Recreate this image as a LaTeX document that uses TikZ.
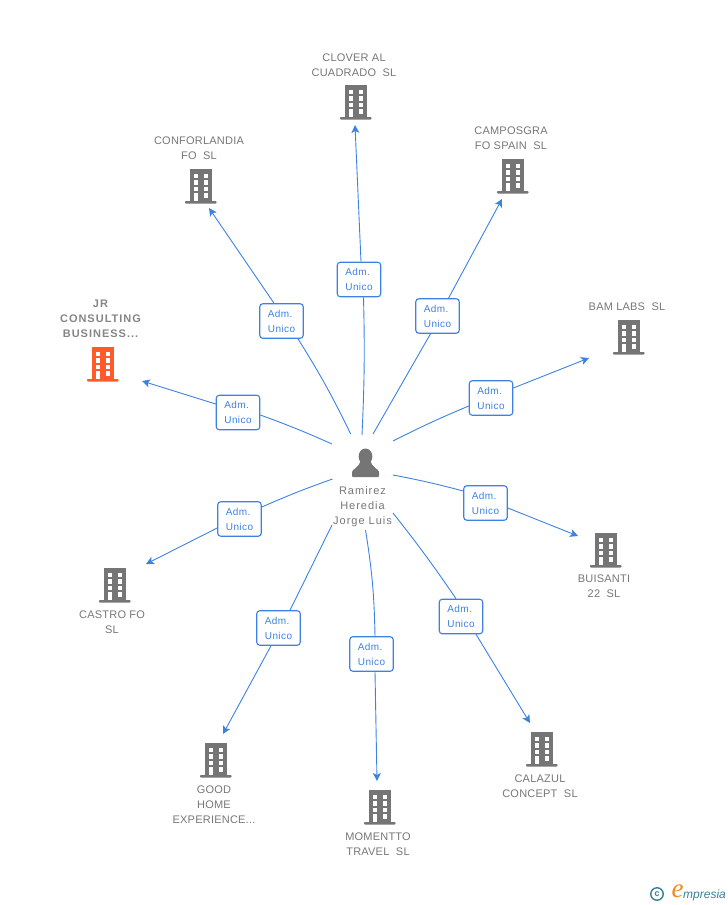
\documentclass[tikz,border=0pt]{standalone}
\usepackage{fontspec}
\usepackage{xcolor}
\usepackage{tikz}
\usetikzlibrary{calc,arrows.meta}
\newfontfamily\lblfont[LetterSpace=2]{Liberation Sans}
\newfontfamily\jrfont[LetterSpace=9]{Liberation Sans}
\newfontfamily\prsfont[LetterSpace=9]{Liberation Sans}
\newfontfamily\admfont[LetterSpace=4]{Liberation Sans}
\newfontfamily\logofont{Liberation Sans}
\newfontfamily\logoefont{Liberation Serif}
\definecolor{linkblue}{HTML}{3D82E3}
\definecolor{bldgray}{HTML}{757575}
\definecolor{txtgray}{HTML}{777777}
\definecolor{jrgray}{HTML}{858585}
\definecolor{jrorange}{HTML}{FF5A2B}
\definecolor{logoteal}{HTML}{3A7F99}
\definecolor{logoorange}{HTML}{EE8A1D}
\tikzset{>=stealth}
\tikzset{
  firm/.style={font=\lblfont\fontsize{11}{15}\selectfont, text=txtgray, align=center, inner sep=0pt},
  adm/.style={draw=linkblue, fill=white, line width=1.1pt, rounded corners=3pt, minimum width=43.5pt, minimum height=34.5pt,
     inner sep=0pt, align=left, text=linkblue, font=\admfont\fontsize{10}{15}\selectfont},
  lnk/.style={draw=linkblue, line width=0.9pt},
  arr/.style={lnk, -{Stealth[length=8pt,width=8pt,inset=2pt]}},
  pics/bldg/.style={code={
    \fill[#1] (-11,-17) rectangle (11,15);
    \fill[#1, rounded corners=0.8pt] (-16,15) rectangle (15.5,17.5);
    \foreach \yy in {-12.5,-5.8,0.7,7.2} {
      \fill[white] (-7,\yy) rectangle ++(4.3,4.4);
      \fill[white] (2.9,\yy) rectangle ++(4.5,4.4);
    }
    \fill[white] (-7,10) rectangle (-2.7,14.6);
  }}
}
\begin{document}
\begin{tikzpicture}[x=1pt,y=-1pt]
\useasboundingbox (0,0) rectangle (728,905);

% buildings
\pic at (356,102) {bldg=bldgray};
\pic at (201,186) {bldg=bldgray};
\pic at (513,176) {bldg=bldgray};
\pic at (629,337) {bldg=bldgray};
\pic at (103,364) {bldg=jrorange};
\pic at (115,585) {bldg=bldgray};
\pic at (216,760) {bldg=bldgray};
\pic at (380,807) {bldg=bldgray};
\pic at (542,749) {bldg=bldgray};
\pic at (606,550) {bldg=bldgray};

\node[firm] (clover) at (354,65) {CLOVER AL\\CUADRADO\ \ SL};
\node[firm] (conforlandia) at (199,148) {CONFORLANDIA\\FO\ \ SL};
\node[firm] (camposgra) at (511,138) {CAMPOSGRA\\FO SPAIN\ \ SL};
\node[firm] (bamlabs) at (627,306.5) {BAM LABS\ \ SL};
\node[firm, text=jrgray, font=\jrfont\bfseries\fontsize{11}{15}\selectfont] (jr) at (100.5,319) {JR\\CONSULTING\\BUSINESS...};
\node[firm] (castro) at (112,622) {CASTRO FO\\SL};
\node[firm] (goodhome) at (214,804.5) {GOOD\\HOME\\EXPERIENCE...};
\node[firm] (momentto) at (378,844.5) {MOMENTTO\\TRAVEL\ \ SL};
\node[firm] (calazul) at (540,786) {CALAZUL\\CONCEPT\ \ SL};
\node[firm] (buisanti) at (604,586.5) {BUISANTI\\22\ \ SL};

% person
\fill[bldgray] (365.5,456.5) ellipse (6.9 and 8);
\fill[bldgray, rounded corners=0.8pt] (352,477) -- (352,472.5) .. controls (352.5,469) and (358,468.5) .. (361,460)
  -- (370,460) .. controls (373,468.5) and (378.5,469) .. (379,472.5) -- (379,477) -- cycle;
\node[firm, font=\prsfont\fontsize{11}{15}\selectfont] (ramirez) at (362.5,506.5) {Ramirez\\Heredia\\Jorge Luis};

% link ends
\coordinate (s1) at (362,435);  \coordinate (t1) at (355,125);
\coordinate (s2) at (350.7,434);  \coordinate (t2) at (209,208);
\coordinate (s3) at (373,434);  \coordinate (t3) at (502,199);
\coordinate (s4) at (393,441);  \coordinate (t4) at (589,358);
\coordinate (s5) at (332,444);  \coordinate (t5) at (142,381);
\coordinate (s6) at (332.5,479);  \coordinate (t6) at (146,564);
\coordinate (s7) at (332,525);  \coordinate (t7) at (223,734);
\coordinate (s8) at (365.5,530);  \coordinate (t8) at (377,781);
\coordinate (s9) at (393,513);  \coordinate (t9) at (530,723);
\coordinate (s10) at (393,475); \coordinate (t10) at (578,536);

\node[adm] (a1) at (359,279.5) {Adm.\\Unico};
\node[adm] (a2) at (281.5,321) {Adm.\\Unico};
\node[adm] (a3) at (437.5,316) {Adm.\\Unico};
\node[adm] (a4) at (491,398) {Adm.\\Unico};
\node[adm] (a5) at (238,412.5) {Adm.\\Unico};
\node[adm] (a6) at (239.5,519) {Adm.\\Unico};
\node[adm] (a7) at (278.5,628) {Adm.\\Unico};
\node[adm] (a8) at (371.5,654) {Adm.\\Unico};
\node[adm] (a9) at (461,616.5) {Adm.\\Unico};
\node[adm] (a10) at (485.5,503) {Adm.\\Unico};

\draw[lnk] (s1) to[bend right=2] ($(a1.south)+(4.5,0)$);
\draw[lnk] (s2) to[bend right=3] ($(a2.south)+(16.5,0)$);
\draw[lnk] (s3) -- ($(a3.south)+(-7,0)$);
\draw[lnk] (s4) to[bend left=2] ($(a4.west)+(0,8)$);
\draw[lnk] (s5) to[bend right=2] ($(a5.east)+(0,2.5)$);
\draw[lnk] (s6) to[bend right=2] ($(a6.east)+(0,-12)$);
\draw[lnk] (s7) -- ($(a7.north)+(11.5,0)$);
\draw[lnk] (s8) to[bend left=4] ($(a8.north)+(3.5,0)$);
\draw[lnk] (s9) to[bend left=2] ($(a9.north)+(-5,0)$);
\draw[lnk] (s10) to[bend left=2] ($(a10.west)+(0,-12)$);

\draw[arr] ($(a1.north)+(2,0)$) -- (t1);
\draw[arr] ($(a2.north)+(-7.5,0)$) -- (t2);
\draw[arr] ($(a3.north)+(11,0)$) -- (t3);
\draw[arr] ($(a4.east)+(0,-10)$) -- (t4);
\draw[arr] ($(a5.west)+(0,-8.5)$) -- (t5);
\draw[arr] ($(a6.west)+(0,9)$) -- (t6);
\draw[arr] ($(a7.south)+(-7.5,0)$) -- (t7);
\draw[arr] ($(a8.south)+(3.5,0)$) -- (t8);
\draw[arr] ($(a9.south)+(15,0)$) -- (t9);
\draw[arr] ($(a10.east)+(0,5)$) -- (t10);

% logo
\node[draw=logoteal, line width=1.4pt, circle, minimum size=12.5pt, inner sep=0pt, text=logoteal,
  font=\logofont\bfseries\fontsize{9}{9}\selectfont] (copyr) at (657,894) {c};
\node[inner sep=0pt, text=logoorange, font=\logoefont\itshape\fontsize{27}{27}\selectfont] (logoe) at (677.5,891) {e};
\node[inner sep=0pt, anchor=west, text=logoteal, font=\logofont\itshape\fontsize{12}{12}\selectfont] (logotxt) at (683,895) {mpresia};
\end{tikzpicture}
\end{document}
